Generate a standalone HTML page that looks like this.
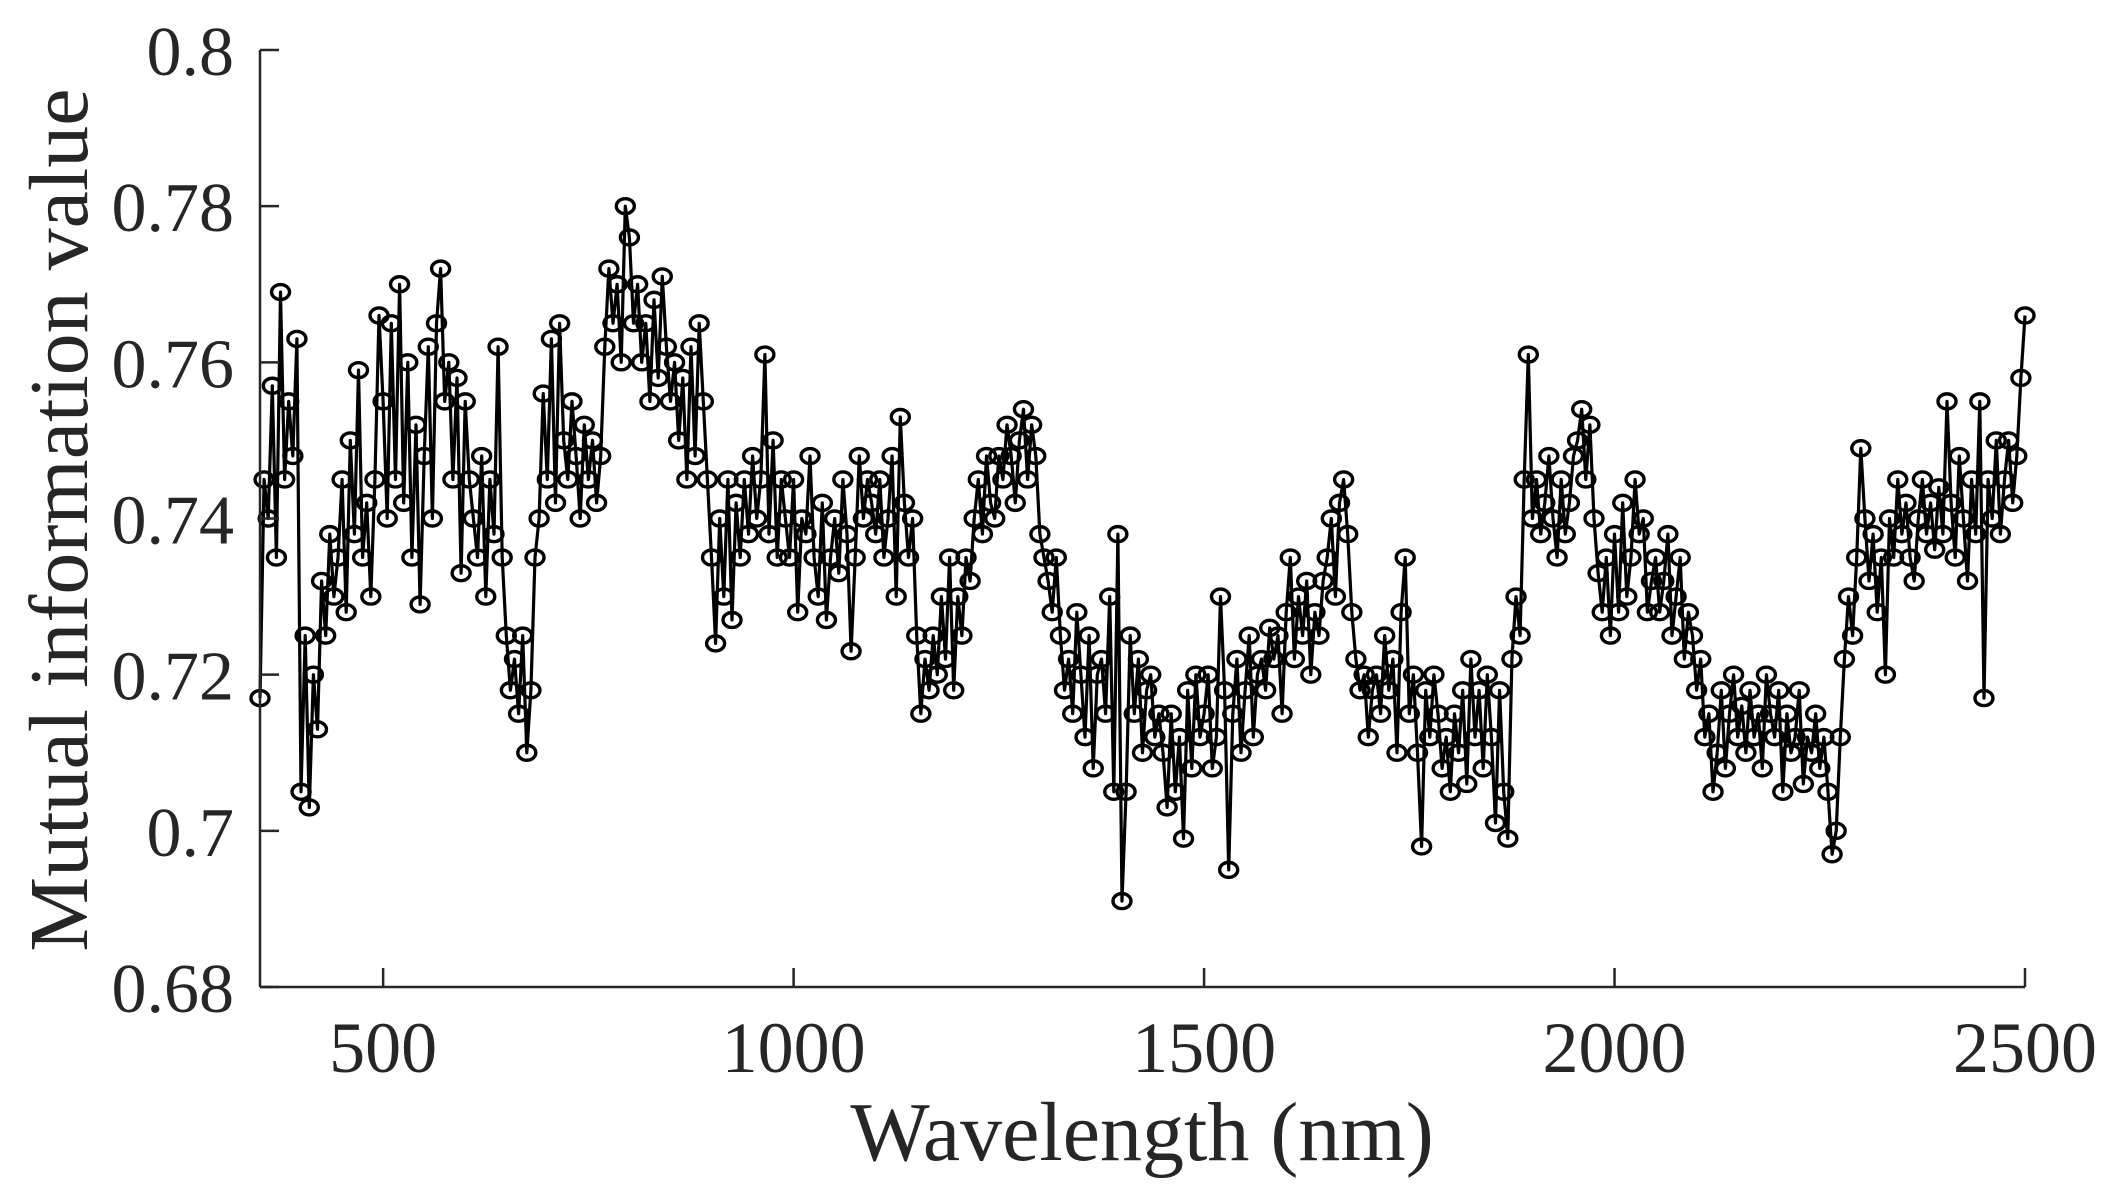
<!DOCTYPE html>
<html><head><meta charset="utf-8"><style>
html,body{margin:0;padding:0;background:#fff;}
svg{display:block;font-family:"Liberation Serif",serif;}
</style></head><body>
<svg id="chart" width="2121" height="1203" viewBox="0 0 2121 1203" xmlns="http://www.w3.org/2000/svg">
<rect x="0" y="0" width="2121" height="1203" fill="#fff"/>
<g id="series"></g>
<g id="axes"></g>
<text x="1142" y="1160" font-size="84" text-anchor="middle" fill="#262626">Wavelength (nm)</text>
<text transform="translate(87,520) rotate(-90)" font-size="84" text-anchor="middle" fill="#262626">Mutual information value</text>
</svg>
<script>
const wlStart = 350;
const wlStep = 5;
const miValues = [
.717,.745,.740,.757,.735,.769,.745,.755,.748,.763,
.705,.725,.703,.720,.713,.732,.725,.738,.730,.735,
.745,.728,.750,.738,.759,.735,.742,.730,.745,.766,
.755,.740,.765,.745,.770,.742,.760,.735,.752,.729,
.748,.762,.740,.765,.772,.755,.760,.745,.758,.733,
.755,.745,.740,.735,.748,.730,.745,.738,.762,.735,
.725,.718,.722,.715,.725,.710,.718,.735,.740,.756,
.745,.763,.742,.765,.750,.745,.755,.748,.740,.752,
.745,.750,.742,.748,.762,.772,.765,.770,.760,.780,
.776,.765,.770,.760,.765,.755,.768,.758,.771,.762,
.755,.760,.750,.758,.745,.762,.748,.765,.755,.745,
.735,.724,.740,.730,.745,.727,.742,.735,.745,.738,
.748,.740,.745,.761,.738,.750,.735,.745,.740,.735,
.745,.728,.740,.738,.748,.735,.730,.742,.727,.735,
.740,.733,.745,.738,.723,.735,.748,.740,.745,.742,
.738,.745,.735,.740,.748,.730,.753,.742,.735,.740,
.725,.715,.722,.718,.725,.720,.730,.722,.735,.718,
.730,.725,.735,.732,.740,.745,.738,.748,.742,.740,
.748,.745,.752,.748,.742,.750,.754,.745,.752,.748,
.738,.735,.732,.728,.735,.725,.718,.722,.715,.728,
.720,.712,.725,.708,.720,.722,.715,.730,.705,.738,
.691,.705,.725,.715,.722,.710,.718,.720,.712,.715,
.710,.703,.715,.705,.712,.699,.718,.708,.720,.712,
.715,.720,.708,.712,.730,.718,.695,.715,.722,.710,
.718,.725,.712,.720,.722,.718,.726,.722,.725,.715,
.728,.735,.722,.730,.725,.732,.720,.728,.725,.732,
.735,.740,.730,.742,.745,.738,.728,.722,.718,.720,
.712,.718,.720,.715,.725,.718,.722,.710,.728,.735,
.715,.720,.710,.698,.718,.712,.720,.715,.708,.712,
.705,.715,.710,.718,.706,.722,.712,.718,.708,.720,
.712,.701,.718,.705,.699,.722,.730,.725,.745,.761,
.740,.745,.738,.742,.748,.740,.735,.745,.738,.742,
.748,.750,.754,.745,.752,.740,.733,.728,.735,.725,
.738,.728,.742,.730,.735,.745,.738,.740,.728,.732,
.735,.728,.732,.738,.725,.730,.735,.722,.728,.725,
.718,.722,.712,.715,.705,.710,.718,.708,.715,.720,
.712,.716,.710,.718,.712,.715,.708,.720,.715,.712,
.718,.705,.715,.710,.712,.718,.706,.712,.710,.715,
.708,.712,.705,.697,.700,.712,.722,.730,.725,.735,
.749,.740,.732,.738,.728,.735,.720,.740,.735,.745,
.738,.742,.735,.732,.740,.745,.738,.742,.736,.744,
.738,.755,.742,.735,.748,.740,.732,.745,.738,.755,
.717,.745,.740,.750,.738,.745,.750,.742,.748,.758,
.766
];
const xTicks = [500, 1000, 1500, 2000, 2500];
const yTicks = [0.68, 0.70, 0.72, 0.74, 0.76, 0.78, 0.80];
const yTickLabels = ["0.68", "0.7", "0.72", "0.74", "0.76", "0.78", "0.8"];
const xMin = 350, xMax = 2500, yMin = 0.68, yMax = 0.80;

const L = 260, R = 2025, T = 50, B = 987;
const NS = "http://www.w3.org/2000/svg";
function xs(v){ return L + (v - xMin) / (xMax - xMin) * (R - L); }
function ys(v){ return B - (v - yMin) / (yMax - yMin) * (B - T); }
function mk(tag, attrs, parent){
  const e = document.createElementNS(NS, tag);
  for (const k in attrs) e.setAttribute(k, attrs[k]);
  parent.appendChild(e);
  return e;
}
const axes = document.getElementById('axes');
const series = document.getElementById('series');
const col = "#262626";

const yAxis = mk('path', {d:`M${L},${T} L${L},${B}`, stroke:col, 'stroke-width':2.5, fill:'none'}, axes);


const xAxis = mk('path', {d:`M${L},${B} L${R},${B}`, stroke:col, 'stroke-width':2.5, fill:'none'}, axes);



yTicks.forEach((v, i) => {
  const y = ys(v);
  const t = mk('line', {x1:L, x2:L+19, y1:y, y2:y, stroke:col, 'stroke-width':2.5}, axes);
  
  
  const lb = mk('text', {x:234, y:y+25, 'font-size':70, 'text-anchor':'end', fill:col}, axes);
  lb.textContent = yTickLabels[i];
  
  
});
xTicks.forEach(v => {
  const x = xs(v);
  const t = mk('line', {x1:x, x2:x, y1:B, y2:B-19, stroke:col, 'stroke-width':2.5}, axes);
  
  
  const lb = mk('text', {x:x, y:1072, 'font-size':72, 'text-anchor':'middle', fill:col}, axes);
  lb.textContent = String(v);
  
  
});

let d = '';
miValues.forEach((v, i) => {
  const x = xs(wlStart + i * wlStep), y = ys(v);
  d += (i ? ' L' : 'M') + x.toFixed(1) + ',' + y.toFixed(1);
});
const line = mk('path', {d:d, stroke:'#000', 'stroke-width':3.2, fill:'none', 'stroke-linejoin':'round'}, series);


miValues.forEach((v, i) => {
  const c = mk('ellipse', {cx:xs(wlStart + i * wlStep), cy:ys(v), rx:9, ry:7.5, stroke:'#000', 'stroke-width':3.4, fill:'none'}, series);
  
  
});
</script>
</body></html>
